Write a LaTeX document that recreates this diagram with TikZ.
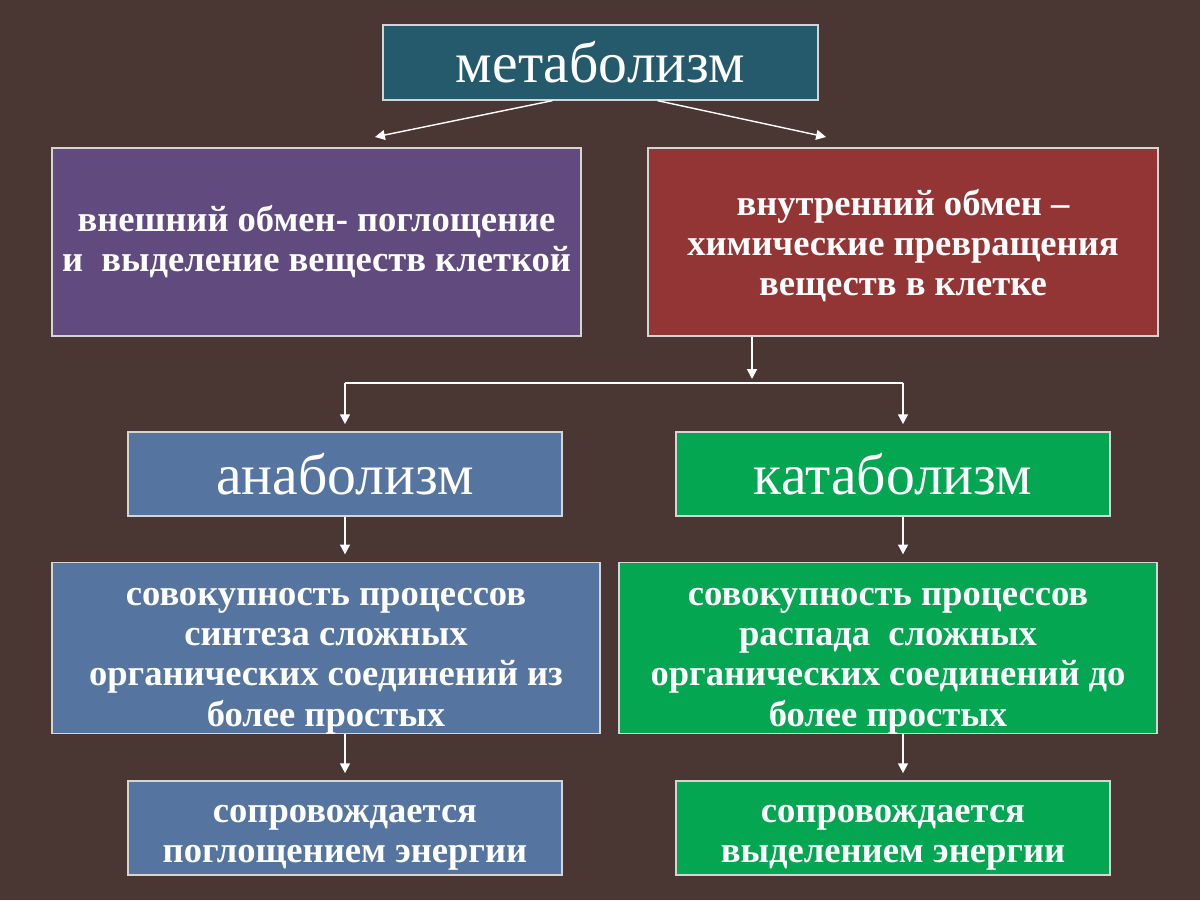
\documentclass[tikz,border=0pt]{standalone}
\usepackage{fontspec}
\setmainfont{Liberation Serif}
\usetikzlibrary{shapes,arrows.meta}

\definecolor{bgbrown}{RGB}{74,54,50}
\definecolor{metateal}{RGB}{36,90,108}
\definecolor{extpurple}{RGB}{97,74,126}
\definecolor{intred}{RGB}{147,53,53}
\definecolor{anablue}{RGB}{85,117,160}
\definecolor{katgreen}{RGB}{4,166,82}
\definecolor{boxline}{RGB}{215,212,212}

% extra room above the first line, to push the text down a little
\newcommand{\toplift}[1]{\rule{0pt}{#1}}

\tikzset{
	box/.style={draw=boxline, line width=0.9pt, text=white, align=center, inner sep=0pt},
	bigtext/.style={font=\fontsize{41}{48}\selectfont},
	smalltext/.style={font=\bfseries\fontsize{26}{28.5}\selectfont},
	arr/.style={draw=white, line width=1.4pt, -{Triangle[width=7pt,length=7pt]}, shorten >=0.18cm},
	thinarr/.style={draw=white, line width=1pt, -{Triangle[width=7pt,length=7pt]}}
}

\begin{document}
\begin{tikzpicture}[x=0.025cm, y=-0.025cm]
	\fill[bgbrown] (0,0) rectangle (1200,900);

	\node[box, bigtext, fill=metateal, minimum width=10.875cm, minimum height=1.875cm] (meta) at (600.5,62.5) {метаболизм};

	\node[box, smalltext, fill=extpurple, minimum width=13.225cm, minimum height=4.7cm] (ext) at (316.5,242) {внешний обмен- поглощение\\и\ \ выделение веществ клеткой};
	\node[box, smalltext, fill=intred, minimum width=12.75cm, minimum height=4.7cm] (int) at (903,242) {\toplift{24pt}внутренний обмен –\\химические превращения\\веществ в клетке};

	\node[box, bigtext, fill=anablue, minimum width=10.85cm, minimum height=2.1cm] (ana) at (345,474) {анаболизм};
	\node[box, bigtext, fill=katgreen, minimum width=10.85cm, minimum height=2.1cm] (kat) at (893,474) {катаболизм};

	\node[box, smalltext, fill=anablue, minimum width=13.7cm, minimum height=4.25cm] (anadesc) at (326,648) {\toplift{31pt}совокупность процессов\\синтеза сложных\\органических соединений из\\более простых};
	\node[box, smalltext, fill=katgreen, minimum width=13.45cm, minimum height=4.25cm] (katdesc) at (888,648) {\toplift{31pt}совокупность процессов\\распада\ \ сложных\\органических соединений до\\более простых};

	\node[box, smalltext, fill=anablue, minimum width=10.85cm, minimum height=2.35cm] (anaen) at (345,828) {\toplift{26pt}сопровождается\\поглощением энергии};
	\node[box, smalltext, fill=katgreen, minimum width=10.85cm, minimum height=2.35cm] (katen) at (893,828) {\toplift{26pt}сопровождается\\выделением энергии};

	% arrows from the top box
	\coordinate (extin) at (375,137);
	\coordinate (intin) at (826,137);
	\draw[thinarr] ([xshift=-1.2cm]meta.south) -- (extin);
	\draw[thinarr] ([xshift=1.425cm]meta.south) -- (intin);

	% fork below the red box
	\coordinate (fork) at (752,383);
	\coordinate (forkl) at (345,383);
	\coordinate (forkr) at (903,383);
	\draw[arr, shorten >=0.1cm] (int.south -| fork) -- (fork);
	\draw[white, line width=1.4pt] (forkl) -- (forkr);
	\draw[arr] (forkl) -- (forkl |- ana.north);
	\draw[arr] (forkr) -- (forkr |- kat.north);

	\draw[arr] (ana.south) -- (ana.south |- anadesc.north);
	\draw[arr] (kat.south -| forkr) -- (katdesc.north -| forkr);
	\draw[arr] (anaen.north |- anadesc.south) -- (anaen.north);
	\draw[arr] (katdesc.south -| forkr) -- (katen.north -| forkr);
\end{tikzpicture}
\end{document}
